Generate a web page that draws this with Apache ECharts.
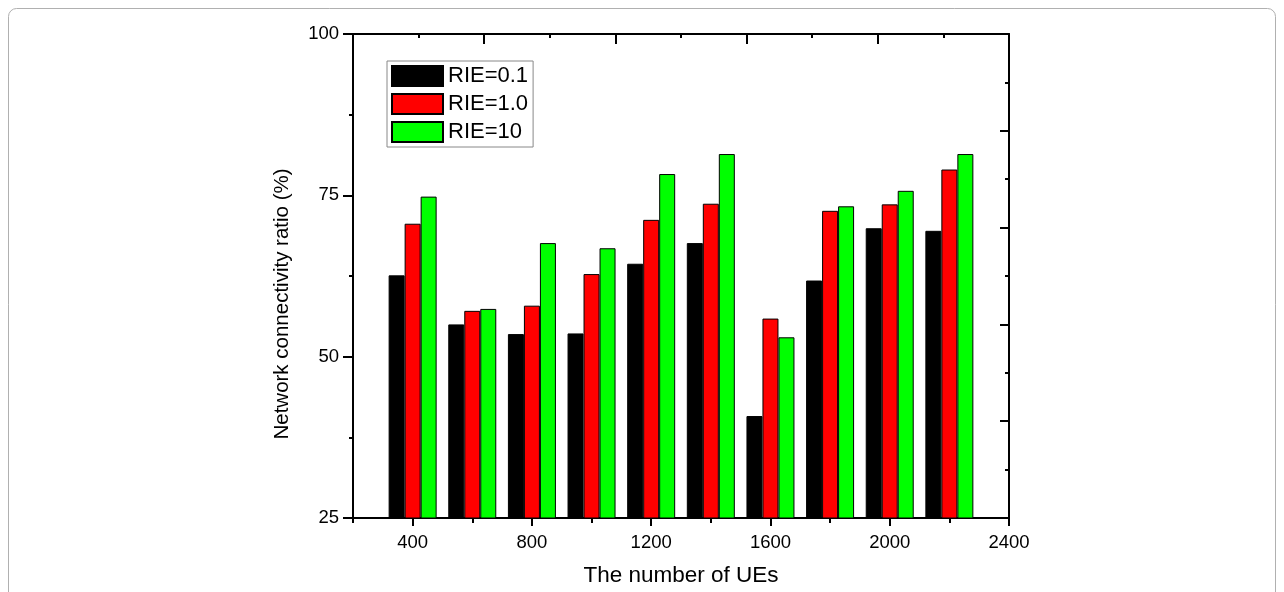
<!DOCTYPE html>
<html>
<head>
<meta charset="utf-8">
<script src="https://cdn.jsdelivr.net/npm/echarts@6/dist/echarts.min.js"></script>
<style>
html,body{margin:0;padding:0;background:#fff;}
#chart{width:1284px;height:592px;}
</style>
</head>
<body>
<div id="chart"></div>
<script>
// ---- data ----
const ues = [400, 600, 800, 1000, 1200, 1400, 1600, 1800, 2000, 2200];
const rie01 = [62.6, 55.0, 53.5, 53.6, 64.4, 67.6, 40.8, 61.8, 69.9, 69.5];
const rie10 = [70.6, 57.1, 57.9, 62.8, 71.2, 73.7, 55.9, 72.6, 73.6, 79.0];
const rie100 = [74.8, 57.4, 67.6, 66.8, 78.3, 81.4, 53.0, 73.3, 75.7, 81.4];
const seriesNames = ['RIE=0.1', 'RIE=1.0', 'RIE=10'];
const xMajorTicks = [400, 800, 1200, 1600, 2000, 2400];
const xMinorTicks = [200, 600, 1000, 1400, 1800, 2200];

const colors = ['#000000', '#FF0000', '#00FF00'];
const FONT = 'Liberation Sans, Arial, sans-serif';

function pairs(vals){ return ues.map((u, i) => [u, vals[i]]); }

const chart = echarts.init(document.getElementById('chart'), null, {renderer: 'canvas'});
const lineStyle = {color: '#000', width: 2};

const option = {
  animation: false,
  backgroundColor: '#fff',
  grid: {left: 353, right: 275, top: 34, bottom: 70, containLabel: false},
  graphic: [{
    type: 'rect', silent: true, z: -10,
    shape: {x: 8.5, y: 8.5, width: 1267, height: 640, r: 8},
    style: {fill: 'none', stroke: '#b0b0b0', lineWidth: 1}
  }],
  legend: {
    orient: 'vertical', left: 387, top: 61,
    itemWidth: 51, itemHeight: 20, itemGap: 6,
    padding: [4, 5, 4, 4],
    borderColor: '#888', borderWidth: 1,
    icon: 'rect',
    textStyle: {fontFamily: FONT, fontSize: 22, color: '#000'},
    data: seriesNames
  },
  xAxis: [
    {
      type: 'value', position: 'bottom', min: 200, max: 2400,
      axisLine: {show: true, onZero: false, lineStyle: lineStyle},
      axisTick: {show: true, inside: false, length: 8, lineStyle: {width: 2, color: '#000'}, customValues: xMajorTicks},
      axisLabel: {show: true, customValues: xMajorTicks, margin: 15, fontFamily: FONT, fontSize: 18.5, color: '#000',
                  formatter: v => String(v)},
      splitLine: {show: false},
      name: 'The number of UEs', nameLocation: 'middle', nameGap: 46,
      nameTextStyle: {fontFamily: FONT, fontSize: 22.5, color: '#000'}
    },
    {
      type: 'value', position: 'bottom', min: 200, max: 2400, offset: 0,
      axisLine: {show: false, onZero: false},
      axisTick: {show: true, inside: false, length: 5, lineStyle: {width: 2, color: '#000'}, customValues: xMinorTicks},
      axisLabel: {show: false},
      splitLine: {show: false}
    },
    {
      type: 'value', position: 'top', min: 0, max: 10, interval: 2,
      axisLine: {show: true, onZero: false, lineStyle: lineStyle},
      axisTick: {show: true, inside: true, length: 10, lineStyle: {width: 2, color: '#000'}},
      minorTick: {show: true, splitNumber: 2, length: 4, lineStyle: {width: 2, color: '#000'}},
      axisLabel: {show: false},
      splitLine: {show: false}, minorSplitLine: {show: false}
    }
  ],
  yAxis: [
    {
      type: 'value', position: 'left', min: 25, max: 100, interval: 25,
      axisLine: {show: true, onZero: false, lineStyle: lineStyle},
      axisTick: {show: true, inside: false, length: 10, lineStyle: {width: 2, color: '#000'}},
      minorTick: {show: true, splitNumber: 2, length: 4, lineStyle: {width: 2, color: '#000'}},
      axisLabel: {show: true, margin: 14, fontFamily: FONT, fontSize: 18.5, color: '#000'},
      splitLine: {show: false}, minorSplitLine: {show: false},
      name: 'Network connectivity ratio (%)', nameLocation: 'middle', nameGap: 60,
      nameTextStyle: {fontFamily: FONT, fontSize: 20.5, color: '#000', padding: [0, 56, 0, 0]}
    },
    {
      type: 'value', position: 'right', min: 0, max: 10, interval: 2,
      axisLine: {show: true, onZero: false, lineStyle: lineStyle},
      axisTick: {show: true, inside: true, length: 9, lineStyle: {width: 2, color: '#000'}},
      minorTick: {show: true, splitNumber: 2, length: 4, lineStyle: {width: 2, color: '#000'}},
      axisLabel: {show: false},
      splitLine: {show: false}, minorSplitLine: {show: false}
    }
  ],
  series: [rie01, rie10, rie100].map((vals, i) => ({
    name: seriesNames[i],
    type: 'bar',
    xAxisIndex: 0, yAxisIndex: 0,
    barWidth: 16, barGap: '0%',
    itemStyle: {color: colors[i], borderColor: '#000', borderWidth: 1},
    data: pairs(vals)
  }))
};
chart.setOption(option);
</script>
</body>
</html>
